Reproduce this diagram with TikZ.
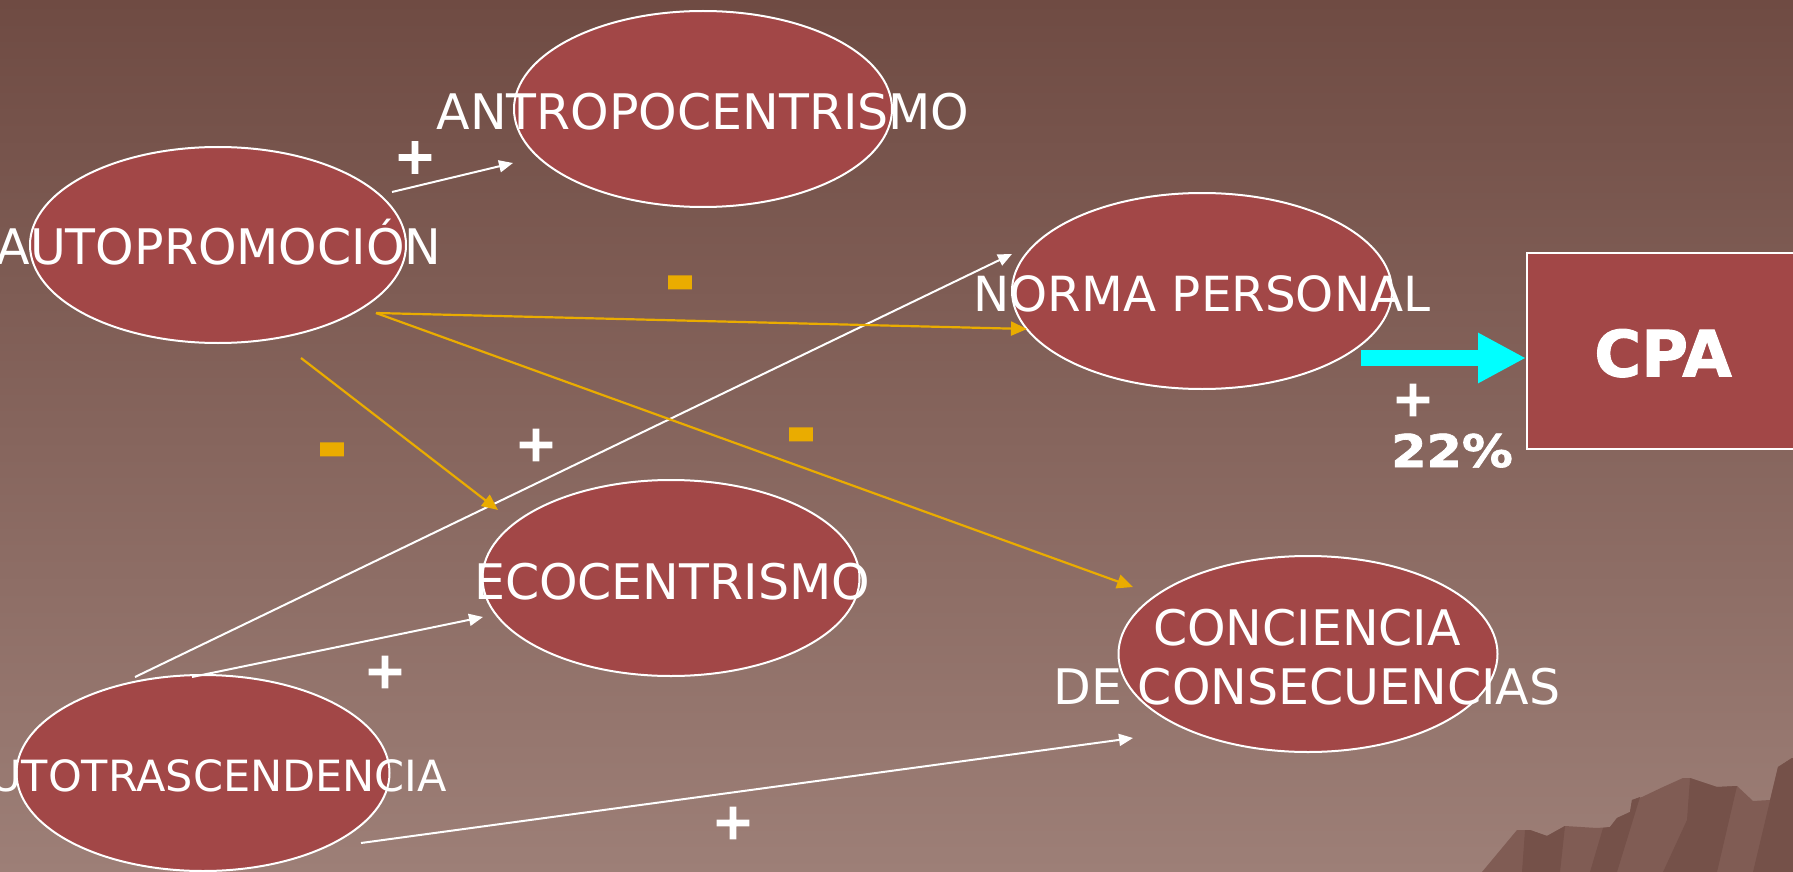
\documentclass[tikz,border=0pt]{standalone}
\usepackage{fontspec}
\setmainfont{DejaVu Sans}
\newfontfamily\signfont[FakeBold=1.5]{DejaVu Sans Bold}
\usetikzlibrary{arrows.meta,shapes.geometric}
\definecolor{bgtop}{RGB}{111,75,67}
\definecolor{bgbot}{RGB}{157,127,119}
\definecolor{ellfill}{RGB}{162,71,71}
\definecolor{orng}{RGB}{234,172,0}
\definecolor{aqua}{RGB}{0,255,255}
\definecolor{mtn}{RGB}{128,92,84}
\definecolor{mtndark}{RGB}{117,81,73}
\begin{document}
\begin{tikzpicture}[x=0.5pt,y=-0.5pt,
  oval/.style={ellipse, draw=white, line width=1pt, fill=ellfill, inner sep=0pt, minimum height=98pt},
  lbl/.style={text=white, font=\fontsize{24.5}{29.5}\selectfont, anchor=base, inner sep=0pt},
  wline/.style={draw=white, line width=1pt, -{Triangle[length=7pt,width=6pt]}},
  oline/.style={draw=orng, line width=1.1pt, -{Triangle[length=8pt,width=7pt]}},
  plussign/.style={text=white, font=\signfont\fontsize{25.5}{25.5}\selectfont, inner sep=0pt},
  minussign/.style={text=orng, font=\signfont\fontsize{37}{37}\selectfont, inner sep=0pt},
]
\useasboundingbox (0,0) rectangle (1793,872);
\shade[top color=bgtop, bottom color=bgbot] (0,0) rectangle (1793,872);
% mountains
\fill[mtn] (1482,872) -- (1517,830) -- (1530,830) -- (1547,836) -- (1565,826) -- (1597,828) -- (1610,827) -- (1617,818) -- (1630,812) -- (1632,800) -- (1642,797) -- (1663,787) -- (1683,778) -- (1690,778) -- (1717,787) -- (1737,786) -- (1753,801) -- (1770,800) -- (1778,767) -- (1792,758) -- (1793,758) -- (1793,872) -- cycle;
\fill[mtndark] (1525,830) -- (1530,830) -- (1547,836) -- (1565,826) -- (1560,872) -- (1522,872) -- cycle;
\fill[mtndark] (1603,828) -- (1610,827) -- (1617,818) -- (1630,812) -- (1632,800) -- (1640,797) -- (1617,872) -- (1590,872) -- cycle;
\fill[mtndark] (1690,778) -- (1717,787) -- (1737,786) -- (1717,872) -- (1663,872) -- (1687,820) -- cycle;
\fill[mtndark] (1778,767) -- (1792,758) -- (1793,758) -- (1793,872) -- (1753,872) -- cycle;

% ellipses
\node[oval, minimum width=189pt] (anto) at (703,109) {};
\node[oval, minimum width=188pt] (autop) at (218,245) {};
\node[oval, minimum width=190pt] (norma) at (1202,291) {};
\node[oval, minimum width=188.5pt] (eco) at (671,578) {};
\node[oval, minimum width=189.5pt] (conc) at (1308,654) {};
\node[oval, minimum width=186.5pt] (autot) at (203,773) {};
\node[draw=white, line width=1pt, fill=ellfill, minimum width=142pt, minimum height=98pt, inner sep=0pt] (cpa) at (1669,351) {};

% labels
\node[lbl] (antoT) at (703,129) {ANTROPOCENTRISMO};
\node[lbl] (autopT) at (219,264) {AUTOPROMOCIÓN};
\node[lbl, font=\fontsize{24.2}{29.5}\selectfont] (normaT) at (1202,311) {NORMA PERSONAL};
\node[lbl] (ecoT) at (672,599) {ECOCENTRISMO};
\node[lbl] (concT1) at (1307,645) {CONCIENCIA};
\node[lbl] (concT2) at (1307,704) {DE CONSECUENCIAS};
\node[lbl, font=\fontsize{21.5}{25}\selectfont] (autotT) at (204,791.5) {AUTOTRASCENDENCIA};
\node[text=white, font=\signfont\fontsize{32}{32}\selectfont, anchor=base, inner sep=0pt] (cpaT) at (1663,376.5) {CPA};

% connectors
\draw[wline] ([shift={(174,-53)}]autop.center) -- ([shift={(-190,54)}]anto.center);
\draw[wline] ([shift={(-68,-96)}]autot.center) -- ([shift={(-190,-37)}]norma.center);
\draw[wline] ([shift={(-11,-96)}]autot.center) -- ([shift={(-188,39)}]eco.center);
\draw[wline] ([shift={(158,70)}]autot.center) -- ([shift={(-175,84)}]conc.center);
\draw[oline] ([shift={(158,68)}]autop.center) -- ([shift={(-175,38)}]norma.center);
\draw[oline] ([shift={(158,68)}]autop.center) -- ([shift={(-175,-67)}]conc.center);
\draw[oline] ([shift={(83,113)}]autop.center) -- ([shift={(-173,-68)}]eco.center);
\draw[aqua, line width=8pt, -{Triangle[length=24pt,width=23.5pt]}] ([shift={(159,67)}]norma.center) -- ([shift={(0,7)}]cpa.west);

% signs
\node[plussign] (p1) at (415,157.5) {+};
\node[minussign] (m1) at (680,292) {\scalebox{1}[1.2]{-}};
\node[minussign] (m2) at (332,459) {\scalebox{1}[1.2]{-}};
\node[plussign] (p2) at (536,445) {+};
\node[minussign] (m3) at (801,444) {\scalebox{1}[1.2]{-}};
\node[plussign] (p3) at (385,672) {+};
\node[plussign] (p4) at (733,823) {+};
\node[plussign] (p5) at (1413,400) {+};
\node[text=white, font=\signfont\fontsize{22.5}{22.5}\selectfont, anchor=base, inner sep=0pt] (pct) at (1452,467) {\scalebox{1.13}[1]{22\%}};
\end{tikzpicture}
\end{document}
